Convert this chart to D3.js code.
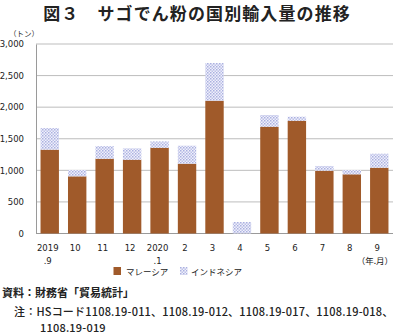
<!DOCTYPE html>
<html>
<head>
<meta charset="utf-8">
<script src="https://cdn.jsdelivr.net/npm/d3@7"></script>
<style>
  body { margin: 0; background: #fff; }
  svg { display: block; font-family: "Noto Sans CJK JP", "Noto Sans", sans-serif; }
</style>
</head>
<body>
<svg id="chart" width="394" height="334"></svg>
<script>
// Monthly import volumes of sago starch (tonnes), by country of origin
const months = ["2019.9", "10", "11", "12", "2020.1", "2", "3", "4", "5", "6", "7", "8", "9"];
const monthLine1 = ["2019", "10", "11", "12", "2020", "2", "3", "4", "5", "6", "7", "8", "9"];
const monthLine2 = [".9", "", "", "", ".1", "", "", "", "", "", "", "", ""];
const malaysia = [1327, 905, 1184, 1168, 1358, 1105, 2102, 0, 1691, 1786, 994, 937, 1042];
const indonesia = [343, 100, 200, 180, 100, 285, 597, 182, 185, 63, 75, 68, 221];
const yTicks = [0, 500, 1000, 1500, 2000, 2500, 3000];
const seriesNames = ["マレーシア", "インドネシア"];

const svg = d3.select("#chart");
const defs = svg.append("defs");

// fine dotted fill for the Indonesia segments
const pat = defs.append("pattern")
  .attr("id", "dots")
  .attr("patternUnits", "userSpaceOnUse")
  .attr("width", 3).attr("height", 3);
pat.append("rect").attr("width", 3).attr("height", 3).attr("fill", "#f0f1fb");
pat.append("rect").attr("x", 0).attr("y", 0).attr("width", 1.5).attr("height", 1.5).attr("fill", "#aab0e0");
pat.append("rect").attr("x", 1.5).attr("y", 1.5).attr("width", 1.5).attr("height", 1.5).attr("fill", "#bcc0e8");

const brown = "#a05a2a";
const margin = { left: 36, right: 393, top: 44, bottom: 233.5 };

const x = d3.scaleBand().domain(months).range([margin.left, margin.right]).paddingInner(0.33).paddingOuter(0.165);
const y = d3.scaleLinear().domain([0, 3000]).range([margin.bottom, margin.top]);

// title
svg.append("text")
  .attr("x", 197).attr("y", 19.8)
  .attr("text-anchor", "middle")
  .attr("font-size", 17).attr("font-weight", "bold").attr("fill", "#222")
  .attr("letter-spacing", 1.1)
  .text("図３　サゴでん粉の国別輸入量の推移");

// unit
svg.append("text")
  .attr("x", 9).attr("y", 37)
  .attr("font-size", 7.5).attr("fill", "#333")
  .text("（トン）");

// gridlines
svg.append("g").selectAll("line").data(yTicks.filter(d => d > 0)).join("line")
  .attr("x1", margin.left).attr("x2", margin.right)
  .attr("y1", d => y(d)).attr("y2", d => y(d))
  .attr("stroke", "#bdbdbd").attr("stroke-width", 1);

// y axis
const yAxis = d3.axisLeft(y).tickValues(yTicks).tickSize(0).tickPadding(12)
  .tickFormat(d3.format(","));
const gy = svg.append("g").attr("transform", `translate(${margin.left},0)`).call(yAxis);
gy.select(".domain").attr("stroke", "#9a9a9a");
gy.selectAll("text").attr("font-size", 8.5).attr("font-family", "Verdana, 'DejaVu Sans', sans-serif")
  .attr("fill", "#222");

// baseline
svg.append("line")
  .attr("x1", margin.left).attr("x2", margin.right)
  .attr("y1", y(0)).attr("y2", y(0))
  .attr("stroke", "#9a9a9a");

// stacked bars
const bars = svg.append("g");
bars.selectAll("rect.my").data(months).join("rect")
  .attr("class", "my")
  .attr("x", d => x(d)).attr("width", x.bandwidth())
  .attr("y", (d, i) => y(malaysia[i]))
  .attr("height", (d, i) => y(0) - y(malaysia[i]))
  .attr("fill", brown);
bars.selectAll("rect.id").data(months).join("rect")
  .attr("class", "id")
  .attr("x", d => x(d)).attr("width", x.bandwidth())
  .attr("y", (d, i) => y(malaysia[i] + indonesia[i]))
  .attr("height", (d, i) => y(malaysia[i]) - y(malaysia[i] + indonesia[i]))
  .attr("fill", "url(#dots)");

// x labels (two lines)
const xl = svg.append("g").attr("font-size", 8.5).attr("fill", "#222")
  .attr("font-family", "Verdana, 'DejaVu Sans', sans-serif").attr("text-anchor", "middle");
xl.selectAll("text.l1").data(months).join("text")
  .attr("class", "l1")
  .attr("x", d => x(d) + x.bandwidth() / 2 - 2).attr("y", 251)
  .text((d, i) => monthLine1[i]);
xl.selectAll("text.l2").data(months).join("text")
  .attr("class", "l2")
  .attr("x", d => x(d) + x.bandwidth() / 2 - 2).attr("y", 264)
  .text((d, i) => monthLine2[i]);

svg.append("text")
  .attr("x", 393).attr("y", 264).attr("text-anchor", "end")
  .attr("font-size", 8.5).attr("fill", "#222")
  .text("（年.月）");

// legend
const lg = svg.append("g").attr("font-size", 8.5).attr("fill", "#222");
lg.append("rect").attr("x", 113.5).attr("y", 267).attr("width", 7.5).attr("height", 8).attr("fill", brown);
lg.append("text").attr("x", 126).attr("y", 275).text(seriesNames[0]);
lg.append("rect").attr("x", 180).attr("y", 267).attr("width", 7.5).attr("height", 8).attr("fill", "url(#dots)");
lg.append("text").attr("x", 191).attr("y", 275).text(seriesNames[1]);

// source and notes
const ft = svg.append("g").attr("font-size", 11).attr("fill", "#222");
ft.append("text").attr("x", 2).attr("y", 297).attr("font-weight", "bold").text("資料：財務省「貿易統計」");
ft.append("text").attr("x", 14).attr("y", 316).attr("font-weight", 500).attr("letter-spacing", 0.2)
  .text("注：HSコード1108.19-011、1108.19-012、1108.19-017、1108.19-018、");
ft.append("text").attr("x", 40).attr("y", 332).attr("font-weight", 500).attr("letter-spacing", 0.2)
  .text("1108.19-019");
</script>
</body>
</html>
